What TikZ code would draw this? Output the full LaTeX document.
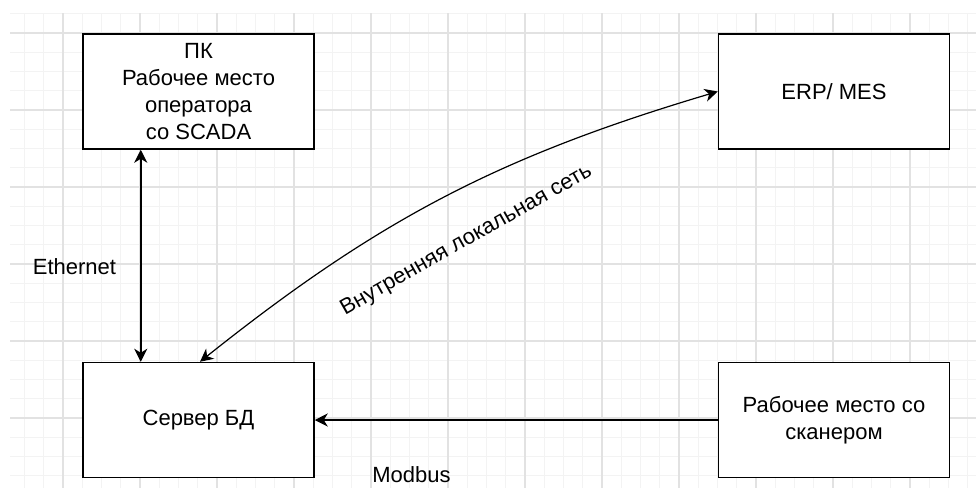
\documentclass[tikz,border=0pt]{standalone}
\usepackage{fontspec}
\setmainfont{Liberation Sans}
\usetikzlibrary{positioning, arrows.meta}
\definecolor{gridmajor}{RGB}{226,226,226}
\definecolor{gridminor}{RGB}{243,243,243}

\begin{document}
\begin{tikzpicture}[x=1pt, y=-1pt, node distance=0mm,
    >={Stealth[length=13pt, width=13pt, inset=4pt]}]
      \tikzset{
        unit/.style={
          draw=black, line width=1.5pt, minimum width=231pt, minimum height=115pt,
          fill=white, inner sep=0pt, align=center,
          font=\fontsize{22}{27}\selectfont
        },
        link/.style={line width=1.5pt},
        lbl/.style={inner sep=0pt, font=\fontsize{22}{27}\selectfont}
      }
      \useasboundingbox[fill=white] (0,0) rectangle (976,488);
      % grid
      \foreach \k in {-2,...,47}
        \draw[gridminor, line width=1pt] ({63+19.25*\k},13) -- ({63+19.25*\k},488);
      \foreach \k in {-1,...,23}
        \draw[gridminor, line width=1pt] (10,{33+19.25*\k}) -- (976,{33+19.25*\k});
      \foreach \k in {0,...,11}
        \draw[gridmajor, line width=1.2pt] ({63+77*\k},13) -- ({63+77*\k},488);
      \foreach \k in {0,...,5}
        \draw[gridmajor, line width=1.2pt] (10,{33+77*\k}) -- (976,{33+77*\k});

      \node[unit] (pc) at (198.5,91.5) {ПК\\Рабочее место\\оператора\\со SCADA};
      \node[unit, right=403pt of pc] (erp) {ERP/ MES};
      \node[unit, below=212pt of pc] (srv) {Сервер БД};
      \node[unit, below=212pt of erp] (scan) {Рабочее место со\\сканером};

      \draw[link, <->] ([xshift=58.5pt]pc.south west) --
        node[lbl, pos=0.55, left=24pt] (eth) {Ethernet}
        ([xshift=58.5pt]srv.north west);
      \draw[link, ->] (scan) --
        node[lbl, pos=0.76, below=46pt] (modbus) {Modbus} (srv);
      \draw[line width=1.2pt, <->] ([xshift=1.5pt]srv.north) to[bend left=11]
        node[lbl, sloped, rotate=2, pos=0.5, below=38pt] (lan) {Внутренняя локальная сеть}
        (erp.west);
    \end{tikzpicture}
\end{document}
